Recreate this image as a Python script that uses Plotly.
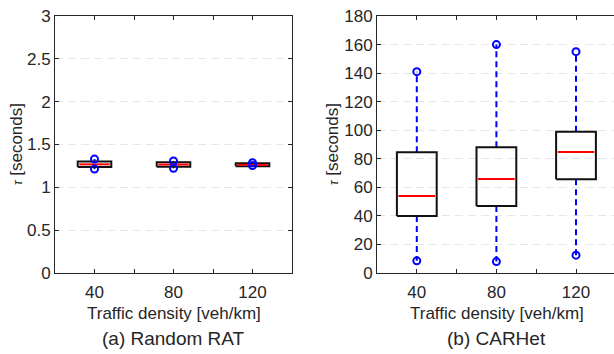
import plotly.graph_objects as go

# ---- data ----
densities = [40, 80, 120]
tick_vals = [20, 40, 60, 80, 100, 120, 140]
tick_text = ["", "40", "", "80", "", "120", ""]

rat_q1 = [1.236, 1.240, 1.247]
rat_med = [1.268, 1.266, 1.262]
rat_q3 = [1.302, 1.294, 1.282]
rat_min = [1.213, 1.222, 1.255]
rat_max = [1.330, 1.308, 1.288]

car_q1 = [40.0, 47.0, 65.6]
car_med = [54.0, 65.8, 84.7]
car_q3 = [84.5, 88.0, 99.0]
car_min = [8.5, 8.0, 12.5]
car_max = [141.0, 160.0, 155.0]

subtitles = ["(a) Random RAT", "(b) CARHet"]
x_title = "Traffic density [veh/km]"
y_title = "<span style='font-size:12px'><i>τ</i></span> [seconds]"
y_ranges = [[0, 3], [0, 180]]
y_dticks = [0.5, 20]

FONT = "Arial, Liberation Sans, sans-serif"
TXT = "#262626"

fig = go.Figure()


def add_panel(q1, med, q3, lo, hi, box_w, xa, ya):
    hw = box_w / 2
    for i, x in enumerate(densities):
        # whiskers
        fig.add_trace(go.Scatter(
            x=[x, x, None, x, x], y=[q3[i], hi[i], None, q1[i], lo[i]],
            mode="lines", line=dict(color="#0000ff", width=2, dash="6px,4px"),
            showlegend=False, hoverinfo="skip", xaxis=xa, yaxis=ya))
        # box outline
        fig.add_trace(go.Scatter(
            x=[x - hw, x + hw, x + hw, x - hw, x - hw],
            y=[q1[i], q1[i], q3[i], q3[i], q1[i]],
            mode="lines", line=dict(color="#111111", width=2),
            showlegend=False, hoverinfo="skip", xaxis=xa, yaxis=ya))
        # median
        fig.add_trace(go.Scatter(
            x=[x - hw + 0.8, x + hw - 0.8], y=[med[i], med[i]],
            mode="lines", line=dict(color="#ff0000", width=2),
            showlegend=False, hoverinfo="skip", xaxis=xa, yaxis=ya))
        # extremes
        fig.add_trace(go.Scatter(
            x=[x, x], y=[lo[i], hi[i]], mode="markers",
            marker=dict(symbol="circle-open", size=7, color="#0000ff",
                        line=dict(width=2, color="#0000ff")),
            showlegend=False, hoverinfo="skip", xaxis=xa, yaxis=ya))


add_panel(rat_q1, rat_med, rat_q3, rat_min, rat_max, 17, "x", "y")
add_panel(car_q1, car_med, car_q3, car_min, car_max, 20, "x2", "y2")

W, H = 614, 354
ytop, ybot = 16, 273
dom_y = [1 - ybot / H, 1 - ytop / H]

xcommon = dict(tickmode="array", tickvals=tick_vals, ticktext=tick_text,
               ticks="inside", ticklen=4, tickcolor=TXT, tickwidth=1,
               showline=True, linecolor=TXT, linewidth=1, mirror="ticks",
               showgrid=False, zeroline=False, automargin=False,
               ticklabelstandoff=4,
               tickfont=dict(size=17, color=TXT, family=FONT))
ycommon = dict(ticks="inside", ticklen=4, tickcolor=TXT, tickwidth=1,
               showline=True, linecolor=TXT, linewidth=1,
               showgrid=True, gridcolor="#e6e6e6", griddash="8px,5px", gridwidth=1,
               zeroline=False, automargin=False,
               tickfont=dict(size=17, color=TXT, family=FONT))

x2_range_end = 20 + (W - 377) / 1.99

fig.update_layout(
    width=W, height=H, margin=dict(l=0, r=0, t=0, b=0),
    paper_bgcolor="white", plot_bgcolor="white",
    font=dict(family=FONT, color=TXT),
    xaxis=dict(domain=[55 / W, 292 / W], range=[20, 140], anchor="y", **xcommon),
    yaxis=dict(domain=dom_y, range=y_ranges[0], dtick=y_dticks[0], anchor="x",
               mirror="ticks", **ycommon),
    xaxis2=dict(domain=[377 / W, 1.0], range=[20, x2_range_end], anchor="y2", **xcommon),
    yaxis2=dict(domain=dom_y, range=y_ranges[1], dtick=y_dticks[1], anchor="x2",
                mirror=False, **ycommon),
)

centers = [(55 + 292) / 2 / W, (377 + 616) / 2 / W]
ytitle_x = [16 / W, 332 / W]
for i in range(2):
    fig.add_annotation(text=subtitles[i], xref="paper", yref="paper", x=centers[i],
                       y=1 - 338 / H, xanchor="center", yanchor="middle", showarrow=False,
                       font=dict(size=19, color=TXT, family=FONT))
    fig.add_annotation(text=x_title, xref="paper", yref="paper", x=centers[i],
                       y=1 - 313 / H, xanchor="center", yanchor="middle", showarrow=False,
                       font=dict(size=17, color=TXT, family=FONT))
    fig.add_annotation(text=y_title, xref="paper", yref="paper", x=ytitle_x[i],
                       y=1 - 144 / H, xanchor="center", yanchor="middle", showarrow=False,
                       textangle=-90, font=dict(size=17, color=TXT, family=FONT))

fig.write_html("out.html")
